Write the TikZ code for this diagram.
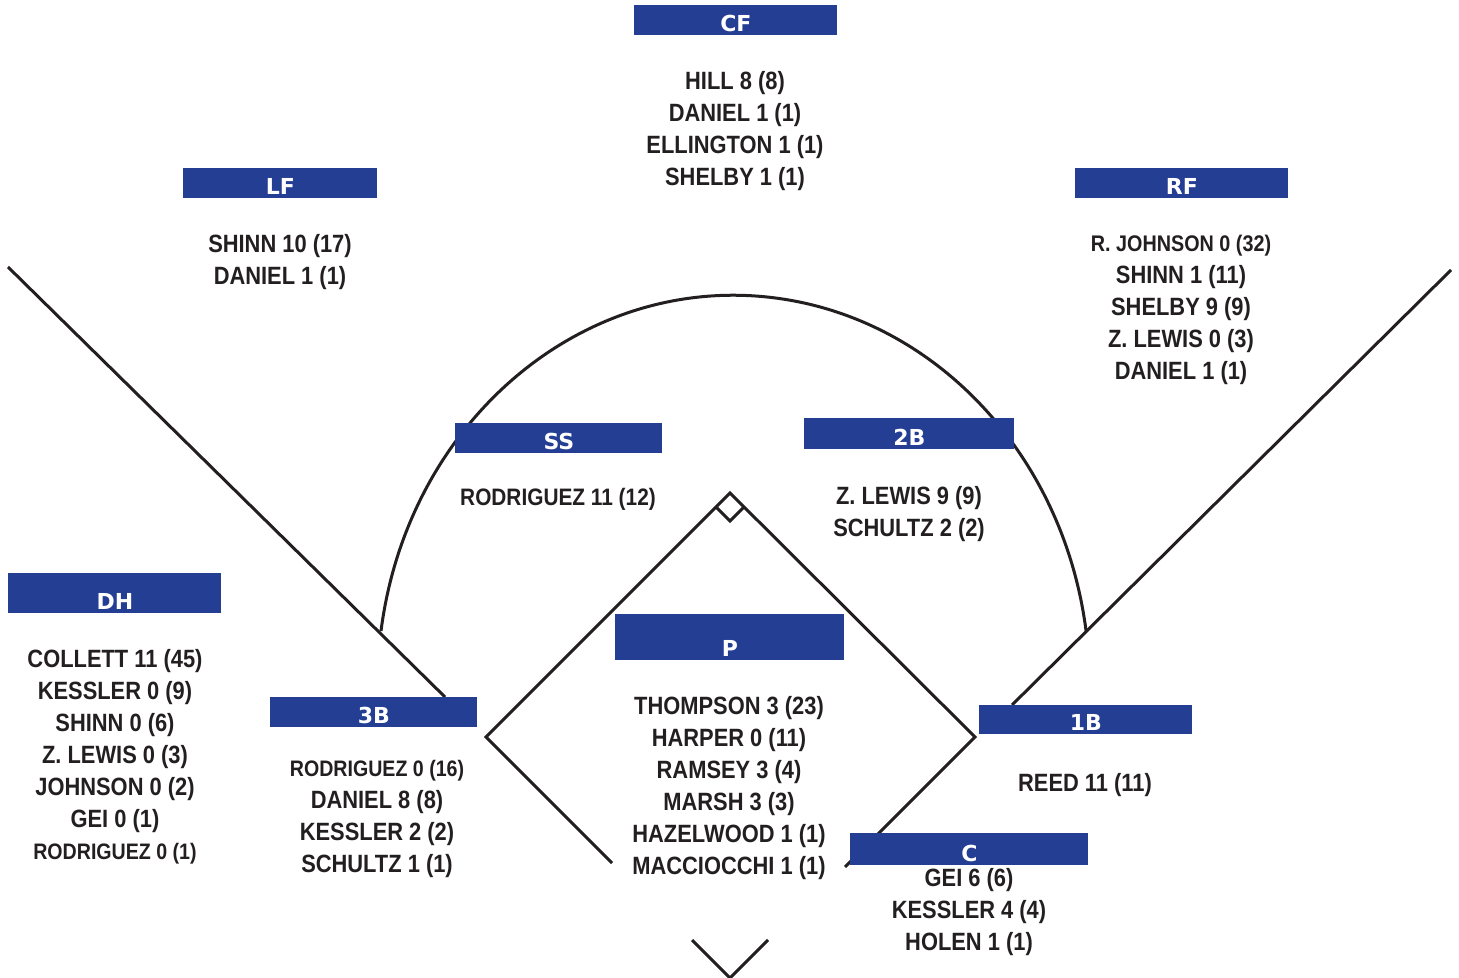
\documentclass[tikz,border=0pt]{standalone}
\usepackage{fontspec}
\setmainfont{Liberation Sans}
\newfontfamily\namefont[FakeStretch=0.875]{Liberation Sans}
\newfontfamily\posfont{DejaVu Sans}
\definecolor{posblue}{RGB}{36,62,148}
\definecolor{ink}{RGB}{35,31,32}

\begin{document}
\begin{tikzpicture}[x=0.5pt, y=-0.5pt,
        field/.style={draw=ink, line width=1.5pt},
        posbox/.style 2 args={fill=posblue, text=white, font=\posfont\bfseries\fontsize{11pt}{13pt}\selectfont,
            inner sep=0pt, anchor=north west, minimum width=#1, text height=#2, text depth=2pt},
        roster/.style={text=ink, font=\namefont\bfseries\fontsize{12.5pt}{16pt}\selectfont,
            align=center, inner sep=0pt, anchor=north}]
    \useasboundingbox (0,0) rectangle (1459,978);

    \draw[field] (8,267) -- (445,697);
    \draw[field] (1451,270) -- (1012,705);
    \draw[field] (381,631) arc[start angle=188, end angle=352, x radius=356, y radius=390];
    \draw[field] (612,863) -- (486,737) -- (730,493) -- (975,737) -- (845,867);
    \draw[field] (716,507) -- (730,521) -- (744,507);
    \draw[field] (692,940) -- (730,978) -- (768,940);

    \node[posbox={101.5pt}{13pt}] (cf) at (634,5) {CF};
    \node[posbox={97pt}{13pt}] (lf) at (183,168) {LF};
    \node[posbox={106.5pt}{13pt}] (rf) at (1075,168) {RF};
    \node[posbox={103.5pt}{13pt}] (ss) at (455,423) {SS};
    \node[posbox={105pt}{13.5pt}] (sb) at (804,418) {2B};
    \node[posbox={106.5pt}{18pt}] (dh) at (8,573) {DH};
    \node[posbox={103.5pt}{13pt}] (tb) at (270,697) {3B};
    \node[posbox={114.5pt}{21pt}] (p) at (615,614) {P};
    \node[posbox={106.5pt}{12.5pt}] (fb) at (979,705) {1B};
    \node[posbox={119pt}{14pt}] (c) at (850,833) {C};

    \node[roster] (cf-list) at (735,71) {HILL 8 (8)\\DANIEL 1 (1)\\ELLINGTON 1 (1)\\SHELBY 1 (1)};
    \node[roster] (lf-list) at (280,234) {SHINN 10 (17)\\DANIEL 1 (1)};
    \node[roster] (rf-list) at (1181,235) {{\fontsize{11.3pt}{16pt}\selectfont R. JOHNSON 0 (32)}\\SHINN 1 (11)\\SHELBY 9 (9)\\Z. LEWIS 0 (3)\\DANIEL 1 (1)};
    \node[roster] (ss-list) at (558,488) {{\fontsize{11.9pt}{16pt}\selectfont RODRIGUEZ 11 (12)}};
    \node[roster] (sb-list) at (909,486) {Z. LEWIS 9 (9)\\SCHULTZ 2 (2)};
    \node[roster] (dh-list) at (115,649) {COLLETT 11 (45)\\KESSLER 0 (9)\\SHINN 0 (6)\\Z. LEWIS 0 (3)\\JOHNSON 0 (2)\\GEI 0 (1)\\{\fontsize{11.2pt}{16pt}\selectfont RODRIGUEZ 0 (1)}};
    \node[roster] (tb-list) at (377,760) {{\fontsize{11.2pt}{16pt}\selectfont RODRIGUEZ 0 (16)}\\DANIEL 8 (8)\\KESSLER 2 (2)\\SCHULTZ 1 (1)};
    \node[roster] (p-list) at (729,696) {THOMPSON 3 (23)\\HARPER 0 (11)\\RAMSEY 3 (4)\\MARSH 3 (3)\\HAZELWOOD 1 (1)\\MACCIOCCHI 1 (1)};
    \node[roster] (fb-list) at (1085,773) {REED 11 (11)};
    \node[roster] (c-list) at (969,868) {GEI 6 (6)\\KESSLER 4 (4)\\HOLEN 1 (1)};
\end{tikzpicture}
\end{document}
